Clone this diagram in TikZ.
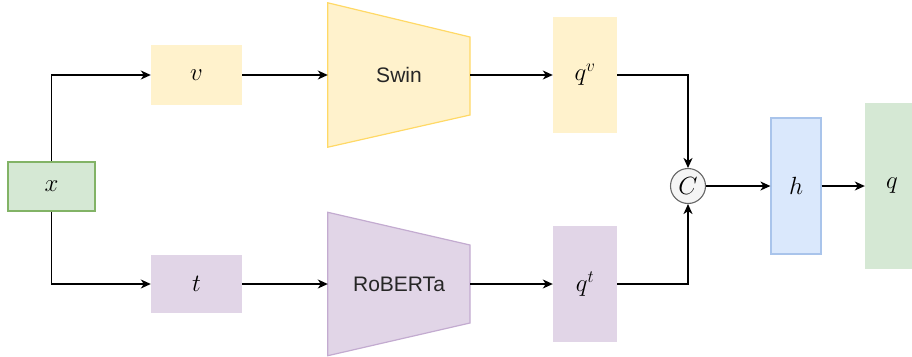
\documentclass[tikz,border=0pt]{standalone}
\usepackage{fontspec}
\setsansfont{Liberation Sans}
\usetikzlibrary{arrows.meta}
\definecolor{greenF}{HTML}{D5E8D4}
\definecolor{greenS}{HTML}{82B366}
\definecolor{yelF}{HTML}{FFF2CC}
\definecolor{yelS}{HTML}{FFD966}
\definecolor{purF}{HTML}{E1D5E7}
\definecolor{purS}{HTML}{C3ABD0}
\definecolor{bluF}{HTML}{DAE8FC}
\definecolor{bluS}{HTML}{A9C4EB}
\definecolor{grayF}{HTML}{F5F5F5}
\definecolor{grayS}{HTML}{666666}
\begin{document}
\begin{tikzpicture}[x=1pt,y=-1pt,
  box/.style={rectangle, inner sep=0pt, font=\fontsize{27}{32}\selectfont},
  enc/.style={rectangle, inner sep=0pt, text=black!85, font=\sffamily\fontsize{21}{25}\selectfont},
  arr/.style={-{Stealth[length=10pt,width=9pt,inset=3pt]}, line width=1.4pt},
  trap/.style={line width=1.2pt}]
\useasboundingbox (0,0) rectangle (912,356);
% encoder blocks (invisible nodes carrying text)
\node[enc, minimum width=142pt, minimum height=144pt] (swin) at (399,75) {};
\node[enc, minimum width=142pt, minimum height=143pt] (rob) at (399,284) {};
\fill[yelF] (swin.north west) -- (470,37) -- (470,115) -- (swin.south west) -- cycle;
\draw[trap, yelS] (swin.north west) -- (470,37) -- (470,115) -- (swin.south west) -- cycle;
\fill[purF] (rob.north west) -- (470,245) -- (470,323) -- (rob.south west) -- cycle;
\draw[trap, purS] (rob.north west) -- (470,245) -- (470,323) -- (rob.south west) -- cycle;
\node[enc] (swintxt) at (swin) {Swin};
\node[enc] (robtxt) at (rob) {RoBERTa};
% boxes
\node[box, fill=greenF, draw=greenS, line width=1.2pt, minimum width=87pt, minimum height=49pt] (x) at (51.5,186.5) {$x$};
\node[box, fill=yelF, minimum width=91pt, minimum height=60pt] (v) at (196.5,75) {$v$};
\node[box, fill=purF, minimum width=91pt, minimum height=58pt] (t) at (196.5,284) {$t$};
\node[box, fill=yelF, minimum width=64pt, minimum height=116pt] (qv) at (585,75) {$q^{v}$};
\node[box, fill=purF, minimum width=64pt, minimum height=116pt] (qt) at (585,284) {$q^{t}$};
\node[circle, fill=grayF, draw=grayS, line width=1.1pt, minimum size=35pt, inner sep=0pt, font=\fontsize{23}{27}\selectfont] (C) at (688,186) {$C$};
\node[box, fill=bluF, draw=bluS, line width=1.2pt, minimum width=50pt, minimum height=136pt] (h) at (796,186) {$h$};
\node[box, fill=greenF, minimum width=54pt, minimum height=166pt] (q) at (892,186) {$q$};
% connectors
\draw[arr] (x.north) |- (v.west);
\draw[arr] (x.south) |- (t.west);
\draw[arr] (v.east) -- (swin.west);
\draw[arr] (t.east) -- (rob.west);
\draw[arr] (swin.east) -- (qv.west);
\draw[arr] (rob.east) -- (qt.west);
\draw[arr] (qv.east) -| (C.north);
\draw[arr] (qt.east) -| (C.south);
\draw[arr] (C.east) -- (h.west);
\draw[arr] (h.east) -- (q.west);
\end{tikzpicture}
\end{document}
